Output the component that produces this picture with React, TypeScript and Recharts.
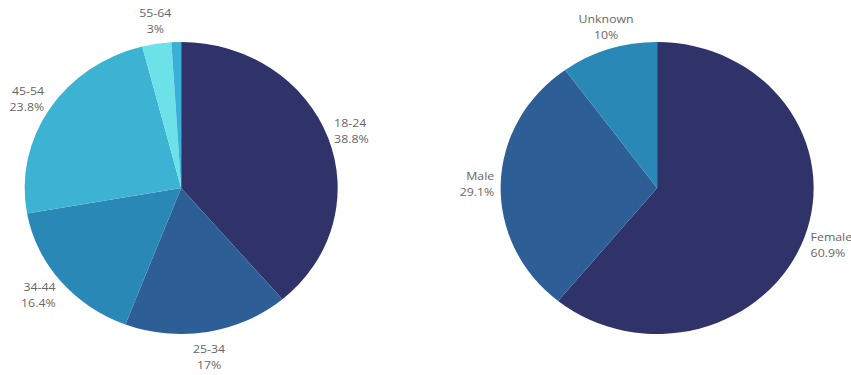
import { Cell, Pie, PieChart } from "recharts";

const AGE_GROUPS = ["18-24", "25-34", "34-44", "45-54", "55-64", "65+"];
const AGE_SHARE = [38.8, 17, 16.4, 23.8, 3, 1.0];
const GENDERS = ["Female", "Male", "Unknown"];
const GENDER_SHARE = [60.9, 29.1, 10];

const AGE_COLORS = ["#2f3369", "#2d5e96", "#2a88b7", "#3db3d3", "#6be1e8", "#3ab0d6"];
const GENDER_COLORS = ["#2f3369", "#2d5e96", "#2a88b7"];

const TEXT = "#666666";
const STRETCH = 1.072;
const W = 794;
const H = 375;
const R = 146;
const RAD = Math.PI / 180;

const ageData = AGE_GROUPS.map((name, i) => ({ name, value: AGE_SHARE[i] }));
const genderData = GENDERS.map((name, i) => ({ name, value: GENDER_SHARE[i] }));

// two-line "name / value%" label outside the slice, skipped for tiny slices
function renderLabel(props: any) {
  const { cx, cy, midAngle, outerRadius, name, value } = props;
  if (value < 2) return null;
  const cos = Math.cos(-midAngle * RAD);
  const sin = Math.sin(-midAngle * RAD);
  const side = Math.abs(cos) > 0.5;
  const r = outerRadius + (side ? 6 : 8);
  const x = cx + r * cos;
  const y = cy + r * sin;
  const anchor = side ? (cos > 0 ? "start" : "end") : "middle";
  let first: number;
  if (side) first = y - 3 + sin * 15;
  else if (sin < 0) first = y - 19;
  else first = y + 13;
  return (
    <text
      x={x}
      y={first}
      textAnchor={anchor}
      fill={TEXT}
      fontSize={11.5}
      fontFamily="'Open Sans', sans-serif"
    >
      <tspan x={x}>{name}</tspan>
      <tspan x={x} dy={16}>{`${value}%`}</tspan>
    </text>
  );
}

export default function App() {
  return (
    <div
      style={{
        position: "absolute",
        left: 0,
        top: 0,
        width: W,
        height: H,
        background: "#fff",
        transform: `scaleX(${STRETCH})`,
        transformOrigin: "0 0",
      }}
    >
      <PieChart
        width={W}
        height={H}
        margin={{ top: 0, right: 0, bottom: 0, left: 0 }}
        style={{ overflow: "visible" }}
      >
        <Pie
          data={ageData}
          dataKey="value"
          nameKey="name"
          cx={169}
          cy={188}
          outerRadius={R}
          startAngle={90}
          endAngle={-270}
          stroke="none"
          labelLine={false}
          label={renderLabel}
          isAnimationActive={false}
        >
          {ageData.map((d, i) => (
            <Cell key={d.name} fill={AGE_COLORS[i]} />
          ))}
        </Pie>
        <Pie
          data={genderData}
          dataKey="value"
          nameKey="name"
          cx={613}
          cy={188}
          outerRadius={R}
          startAngle={90}
          endAngle={-270}
          stroke="none"
          labelLine={false}
          label={renderLabel}
          isAnimationActive={false}
        >
          {genderData.map((d, i) => (
            <Cell key={d.name} fill={GENDER_COLORS[i]} />
          ))}
        </Pie>
      </PieChart>
    </div>
  );
}
